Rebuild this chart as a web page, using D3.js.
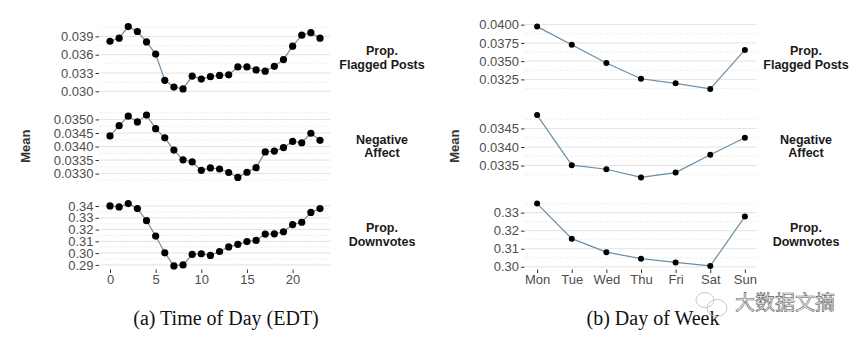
<!DOCTYPE html>
<html>
<head>
<meta charset="utf-8">
<script src="https://cdn.jsdelivr.net/npm/d3@7"></script>
<style>
  body { margin: 0; background: #fff; }
  svg { display: block; }
</style>
</head>
<body>
<svg id="chart" width="865" height="340"></svg>
<script>
// hours 0..23 (EDT)
const hours = d3.range(0, 24);
const hourTicks = [0, 5, 10, 15, 20];
const days = ["Mon", "Tue", "Wed", "Thu", "Fri", "Sat", "Sun"];

const metricNames = [["Prop.", "Flagged Posts"], ["Negative", "Affect"], ["Prop.", "Downvotes"]];

const flaggedByHour = [0.0382, 0.0387, 0.0406, 0.0398, 0.0381, 0.0361, 0.0318, 0.0307, 0.0304, 0.0325,
    0.0320, 0.0324, 0.0326, 0.0327, 0.0340, 0.0340, 0.0335, 0.0333, 0.0341, 0.0352,
    0.0374, 0.0392, 0.0396, 0.0387];
const negativeByHour = [0.03439, 0.03477, 0.03512, 0.03491, 0.03516, 0.03466, 0.03432, 0.03387, 0.03351, 0.03343,
    0.03312, 0.03321, 0.03317, 0.03304, 0.03286, 0.03305, 0.03322, 0.03380, 0.03383, 0.03396,
    0.03419, 0.03414, 0.03449, 0.03423];
const downvotesByHour = [0.3400, 0.3392, 0.3420, 0.3378, 0.3275, 0.3145, 0.3003, 0.2892, 0.2900, 0.2989,
    0.2995, 0.2981, 0.3014, 0.3053, 0.3075, 0.3098, 0.3108, 0.3162, 0.3164, 0.3181,
    0.3242, 0.3262, 0.3345, 0.3378];

const flaggedByDay = [0.03973, 0.03725, 0.03475, 0.03259, 0.03196, 0.03120, 0.03654];
const negativeByDay = [0.03486, 0.03351, 0.03340, 0.03318, 0.03331, 0.03379, 0.03425];
const downvotesByDay = [0.3350, 0.3156, 0.3081, 0.3045, 0.3024, 0.3005, 0.3278];

const hourYTicks = [
    ["0.030", "0.033", "0.036", "0.039"],
    ["0.0330", "0.0335", "0.0340", "0.0345", "0.0350"],
    ["0.29", "0.30", "0.31", "0.32", "0.33", "0.34"]
];
const dayYTicks = [
    ["0.0325", "0.0350", "0.0375", "0.0400"],
    ["0.0335", "0.0340", "0.0345"],
    ["0.30", "0.31", "0.32", "0.33"]
];

const captions = ["(a) Time of Day (EDT)", "(b) Day of Week"];

const svg = d3.select("#chart");

const panelTop = 23.5;
const panelH = 68.5;
const panelGap = 20;

const lineColor = "#6a8ea6";
const tickColor = "#4d4d4d";
const sans = "'Liberation Sans', Arial, sans-serif";

function drawFacetColumn(opts) {
    const { x, xTicks, xFormat, series, yTicks, left, right, stripX, meanX, caption, captionX, dotR } = opts;

    series.forEach((values, i) => {
        const top = panelTop + i * (panelH + panelGap);
        const bottom = top + panelH;
        const ext = d3.extent(values);
        const pad = (ext[1] - ext[0]) * 0.05;
        const y = d3.scaleLinear()
            .domain([ext[0] - pad, ext[1] + pad])
            .range([bottom, top]);

        const g = svg.append("g");

        // minor grid: halfway between major ticks
        const tickVals = yTicks[i].map(Number);
        const step = tickVals[1] - tickVals[0];
        const minor = [];
        for (let k = -1; k < tickVals.length; k++) {
            const v = tickVals[0] + (k + 0.5) * step;
            if (v >= y.domain()[0] && v <= y.domain()[1]) minor.push(v);
        }
        g.selectAll(".minor")
            .data(minor)
            .enter()
            .append("line")
            .attr("x1", left).attr("x2", right)
            .attr("y1", d => y(d)).attr("y2", d => y(d))
            .attr("stroke", "#ebebeb")
            .attr("stroke-width", 0.8)
            .attr("stroke-dasharray", "3,2");

        g.selectAll(".major")
            .data(tickVals)
            .enter()
            .append("line")
            .attr("x1", left).attr("x2", right)
            .attr("y1", d => y(d)).attr("y2", d => y(d))
            .attr("stroke", "#e3e3e3")
            .attr("stroke-width", 1);

        // y axis
        const yAxis = g.append("g")
            .attr("transform", "translate(" + (left - 0.5) + ",0)")
            .call(d3.axisLeft(y).tickValues(tickVals).tickSize(3.5).tickPadding(2)
                .tickFormat((d, j) => yTicks[i][j]));
        yAxis.select(".domain").remove();
        yAxis.selectAll("line").attr("stroke", "#333");
        yAxis.selectAll("text")
            .attr("fill", tickColor)
            .style("font-family", sans)
            .style("font-size", "13px");

        // line + points
        const pts = values.map((v, j) => ({ k: opts.keys[j], v }));
        g.append("path")
            .datum(pts)
            .attr("fill", "none")
            .attr("stroke", lineColor)
            .attr("stroke-width", 1.2)
            .attr("d", d3.line().x(d => x(d.k)).y(d => y(d.v)));

        g.selectAll("circle")
            .data(pts)
            .enter()
            .append("circle")
            .attr("cx", d => x(d.k))
            .attr("cy", d => y(d.v))
            .attr("r", dotR)
            .attr("fill", "#000");

        // strip label
        const strip = g.append("text")
            .attr("x", stripX)
            .attr("y", (top + bottom) / 2 - 2.5)
            .attr("text-anchor", "middle")
            .attr("fill", "#1a1a1a")
            .style("font-family", sans)
            .style("font-size", "12.5px")
            .style("font-weight", "bold");
        metricNames[i].forEach((t, j) => {
            strip.append("tspan")
                .attr("x", stripX)
                .attr("dy", j === 0 ? 0 : 13.5)
                .text(t);
        });

        // x axis on bottom panel
        if (i === series.length - 1) {
            const xAxis = g.append("g")
                .attr("transform", "translate(0," + (bottom + 0.5) + ")")
                .call(d3.axisBottom(x).tickValues(xTicks).tickSize(3.5).tickPadding(2).tickFormat(xFormat));
            xAxis.select(".domain").remove();
            xAxis.selectAll("line").attr("stroke", "#333");
            xAxis.selectAll("text")
                .attr("fill", tickColor)
                .style("font-family", sans)
                .style("font-size", "13px");
        }
    });

    svg.append("text")
        .attr("transform", "translate(" + meanX + "," + (panelTop + 1.5 * panelH + panelGap) + ") rotate(-90)")
        .attr("text-anchor", "middle")
        .attr("fill", "#333")
        .style("font-family", sans)
        .style("font-size", "13px")
        .style("font-weight", "bold")
        .text("Mean");

    svg.append("text")
        .attr("x", captionX)
        .attr("y", 325)
        .attr("text-anchor", "middle")
        .attr("fill", "#111")
        .style("font-family", "'Liberation Serif', 'Times New Roman', serif")
        .style("font-size", "20px")
        .text(caption);
}

const xHour = d3.scaleLinear()
    .domain([-1.15, 24.15])
    .range([99.5, 330.5]);

const xDay = d3.scalePoint()
    .domain(days)
    .range([525, 757])
    .padding(0.35);

drawFacetColumn({
    x: xHour, keys: hours, xTicks: hourTicks, xFormat: d3.format("d"),
    series: [flaggedByHour, negativeByHour, downvotesByHour], yTicks: hourYTicks,
    left: 99.5, right: 330.5, stripX: 382, meanX: 30,
    caption: captions[0], captionX: 226, dotR: 3.6
});

drawFacetColumn({
    x: xDay, keys: days, xTicks: days, xFormat: d => d,
    series: [flaggedByDay, negativeByDay, downvotesByDay], yTicks: dayYTicks,
    left: 525, right: 757, stripX: 806, meanX: 459,
    caption: captions[1], captionX: 653, dotR: 3
});

// watermark: faint logo outline + text
const mark = svg.append("g").attr("fill", "none").attr("stroke", "#bbb").attr("stroke-width", 0.8);
mark.append("ellipse").attr("cx", 705).attr("cy", 300).attr("rx", 9).attr("ry", 7.5);
mark.append("ellipse").attr("cx", 717).attr("cy", 308).attr("rx", 10).attr("ry", 8.5);

svg.append("text")
    .attr("x", 785)
    .attr("y", 310)
    .attr("text-anchor", "middle")
    .attr("fill", "#f6f6f6")
    .attr("stroke", "#5a5a5a")
    .attr("stroke-width", 0.6)
    .style("font-family", "'Noto Sans CJK SC', sans-serif")
    .style("font-size", "20px")
    .text("大数据文摘");
</script>
</body>
</html>
